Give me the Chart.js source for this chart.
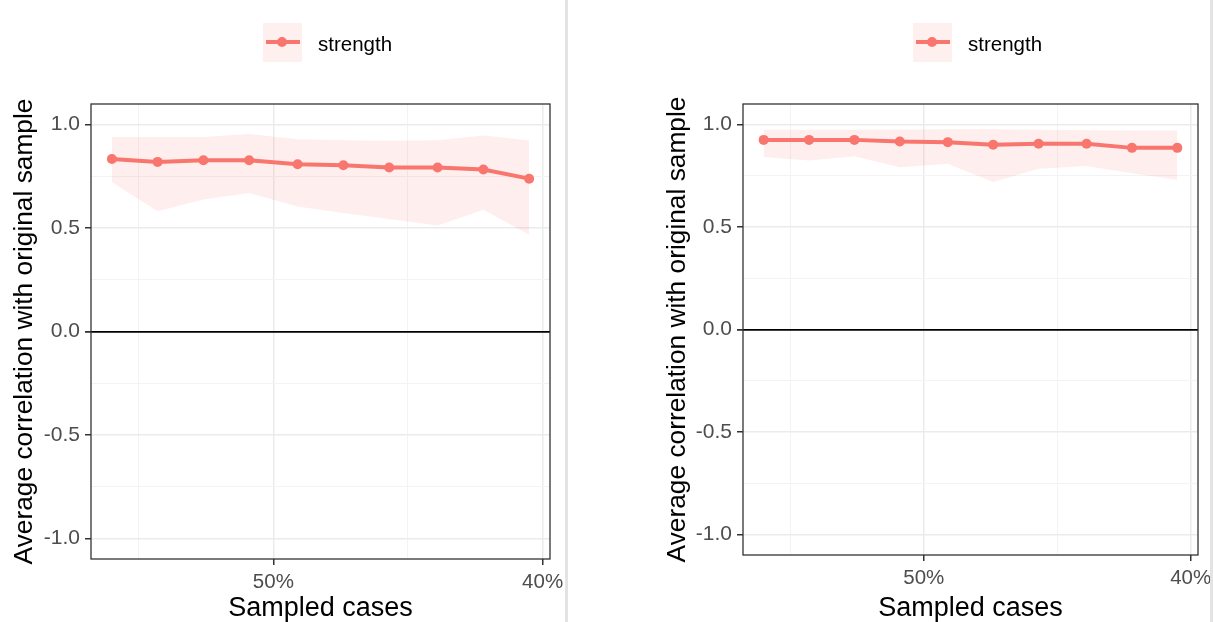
<!DOCTYPE html>
<html>
<head>
<meta charset="utf-8">
<title>Case-dropping stability: strength</title>
<script src="https://cdn.jsdelivr.net/npm/chart.js"></script>
<style>
  body { margin: 0; background: #fff; font-family: "Liberation Sans", Arial, sans-serif; }
  .wrap { position: relative; width: 1213px; height: 622px; overflow: hidden; }
  .panel { position: absolute; top: 0; height: 622px; }
  .sep { position: absolute; top: 0; width: 3px; height: 622px; background: #e3e3e3; }
  .legend { position: absolute; top: 23px; height: 39px; display: flex; align-items: center; font-size: 20.5px; color: #000; }
  .legend .txt { padding-top: 3px; }
  .key { position: relative; width: 39px; height: 39px; background: #fef0ef; margin-right: 16px; }
  .key .ln { position: absolute; left: 3px; right: 2px; top: 17px; height: 4px; background: #F8766D; }
  .key .pt { position: absolute; left: 14px; top: 14px; width: 10px; height: 10px; border-radius: 50%; background: #F8766D; }
</style>
</head>
<body>
<div class="wrap">
  <div class="panel" style="left:0;width:566px"><canvas id="leftChart"></canvas></div>
  <div class="sep" style="left:565px"></div>
  <div class="panel" style="left:569px;width:644px"><canvas id="rightChart"></canvas></div>
  <div class="sep" style="left:1210px"></div>

  <div class="legend" style="left:263px"><span class="key"><span class="ln"></span><span class="pt"></span></span><span class="txt">strength</span></div>
  <div class="legend" style="left:913px"><span class="key"><span class="ln"></span><span class="pt"></span></span><span class="txt">strength</span></div>
</div>

<script>
  // proportion of cases kept in each subsample (%)
  const sampledCases = [56.0, 54.3, 52.6, 50.9, 49.1, 47.4, 45.7, 43.9, 42.2, 40.5];

  // first network: mean correlation and its quantile band
  const leftMean  = [0.834, 0.820, 0.828, 0.828, 0.809, 0.804, 0.793, 0.793, 0.783, 0.739];
  const leftUpper = [0.941, 0.941, 0.940, 0.955, 0.930, 0.925, 0.922, 0.925, 0.948, 0.923];
  const leftLower = [0.723, 0.581, 0.638, 0.670, 0.604, 0.573, 0.544, 0.513, 0.589, 0.468];

  // second network
  const rightMean  = [0.925, 0.925, 0.925, 0.917, 0.914, 0.901, 0.906, 0.906, 0.886, 0.886];
  const rightUpper = [0.975, 0.975, 0.975, 0.976, 0.977, 0.977, 0.975, 0.972, 0.971, 0.970];
  const rightLower = [0.841, 0.824, 0.845, 0.792, 0.808, 0.719, 0.784, 0.797, 0.762, 0.730];

  // axis breaks
  const yMajorTicks = [-1, -0.5, 0, 0.5, 1];
  const yMinorTicks = [-0.75, -0.25, 0.25, 0.75];
  const xMajorTicks = [50, 40];
  const xMajorLabels = ['50%', '40%'];
  const xMinorTicks = [55, 45];

  const lineColor = '#F8766D';
  const ribbonColor = 'rgba(248,118,109,0.12)';

  const toPoints = ys => ys.map((y, i) => ({ x: sampledCases[i], y: y }));

  // ggplot-style padding around the data range
  const xLo = Math.min(...sampledCases), xHi = Math.max(...sampledCases);
  const xPad = (xHi - xLo) * 0.05;

  // draws the box around the plotting region
  const panelFrame = {
    id: 'panelFrame',
    afterDatasetsDraw(chart) {
      const { ctx, chartArea: a } = chart;
      ctx.save();
      ctx.strokeStyle = '#333';
      ctx.lineWidth = 1.3;
      ctx.strokeRect(a.left, a.top, a.right - a.left, a.bottom - a.top);
      ctx.restore();
    }
  };

  function drawPanel(id, mean, upper, lower, geo) {
    return new Chart(document.getElementById(id), {
      type: 'line',
      data: {
        datasets: [
          {
            label: 'strength', data: toPoints(mean),
            borderColor: lineColor, backgroundColor: lineColor,
            borderWidth: 4, pointRadius: 5, pointBorderWidth: 0, fill: false
          },
          {
            label: 'upper', data: toPoints(upper), fill: '+1',
            backgroundColor: ribbonColor, borderColor: 'transparent', borderWidth: 0, pointRadius: 0
          },
          {
            label: 'lower', data: toPoints(lower), fill: false,
            borderColor: 'transparent', borderWidth: 0, pointRadius: 0
          }
        ]
      },
      options: {
        responsive: true,
        maintainAspectRatio: false,
        animation: false,
        layout: { padding: { top: geo.top, right: geo.right, left: geo.left, bottom: 0 } },
        plugins: { legend: { display: false }, tooltip: { enabled: false } },
        scales: {
          x: {
            type: 'linear', reverse: true,
            min: xLo - xPad, max: xHi + xPad,
            afterBuildTicks: s => { s.ticks = xMajorTicks.concat(xMinorTicks).map(v => ({ value: v })); },
            afterFit: s => { s.height = geo.xHeight; },
            ticks: {
              autoSkip: false, maxRotation: 0, padding: 5,
              color: '#4d4d4d', font: { size: 20.5 },
              callback: v => { const i = xMajorTicks.indexOf(v); return i >= 0 ? xMajorLabels[i] : ''; }
            },
            grid: {
              tickLength: 6,
              color: c => xMajorTicks.includes(c.tick.value) ? '#ebebeb' : '#f3f3f3',
              lineWidth: c => xMajorTicks.includes(c.tick.value) ? 1.5 : 1,
              tickColor: c => xMajorTicks.includes(c.tick.value) ? '#333' : 'transparent'
            },
            border: { display: false },
            title: { display: true, text: 'Sampled cases', color: '#000', font: { size: 27, lineHeight: 1 }, padding: 0 }
          },
          y: {
            min: -1.1, max: 1.1,
            afterBuildTicks: s => { s.ticks = yMajorTicks.concat(yMinorTicks).sort((a, b) => a - b).map(v => ({ value: v })); },
            afterFit: s => { s.width = geo.yWidth; },
            ticks: {
              padding: 5, color: '#4d4d4d', font: { size: 21 },
              callback: v => yMajorTicks.includes(v) ? v.toFixed(1) : ''
            },
            grid: {
              tickLength: 6,
              color: c => c.tick.value === 0 ? '#000' : (yMajorTicks.includes(c.tick.value) ? '#ebebeb' : '#f3f3f3'),
              lineWidth: c => c.tick.value === 0 ? 1.8 : (yMajorTicks.includes(c.tick.value) ? 1.5 : 1),
              tickColor: c => yMajorTicks.includes(c.tick.value) ? '#333' : 'transparent'
            },
            border: { display: false },
            title: { display: true, text: 'Average correlation with original sample', color: '#000', font: { size: 26.3, lineHeight: 1 }, padding: 0 }
          }
        }
      },
      plugins: [panelFrame]
    });
  }

  drawPanel('leftChart', leftMean, leftUpper, leftLower,
    { top: 104, right: 16, left: 12, yWidth: 79, xHeight: 63 });
  drawPanel('rightChart', rightMean, rightUpper, rightLower,
    { top: 104, right: 15, left: 96, yWidth: 78, xHeight: 67 });
</script>
</body>
</html>
